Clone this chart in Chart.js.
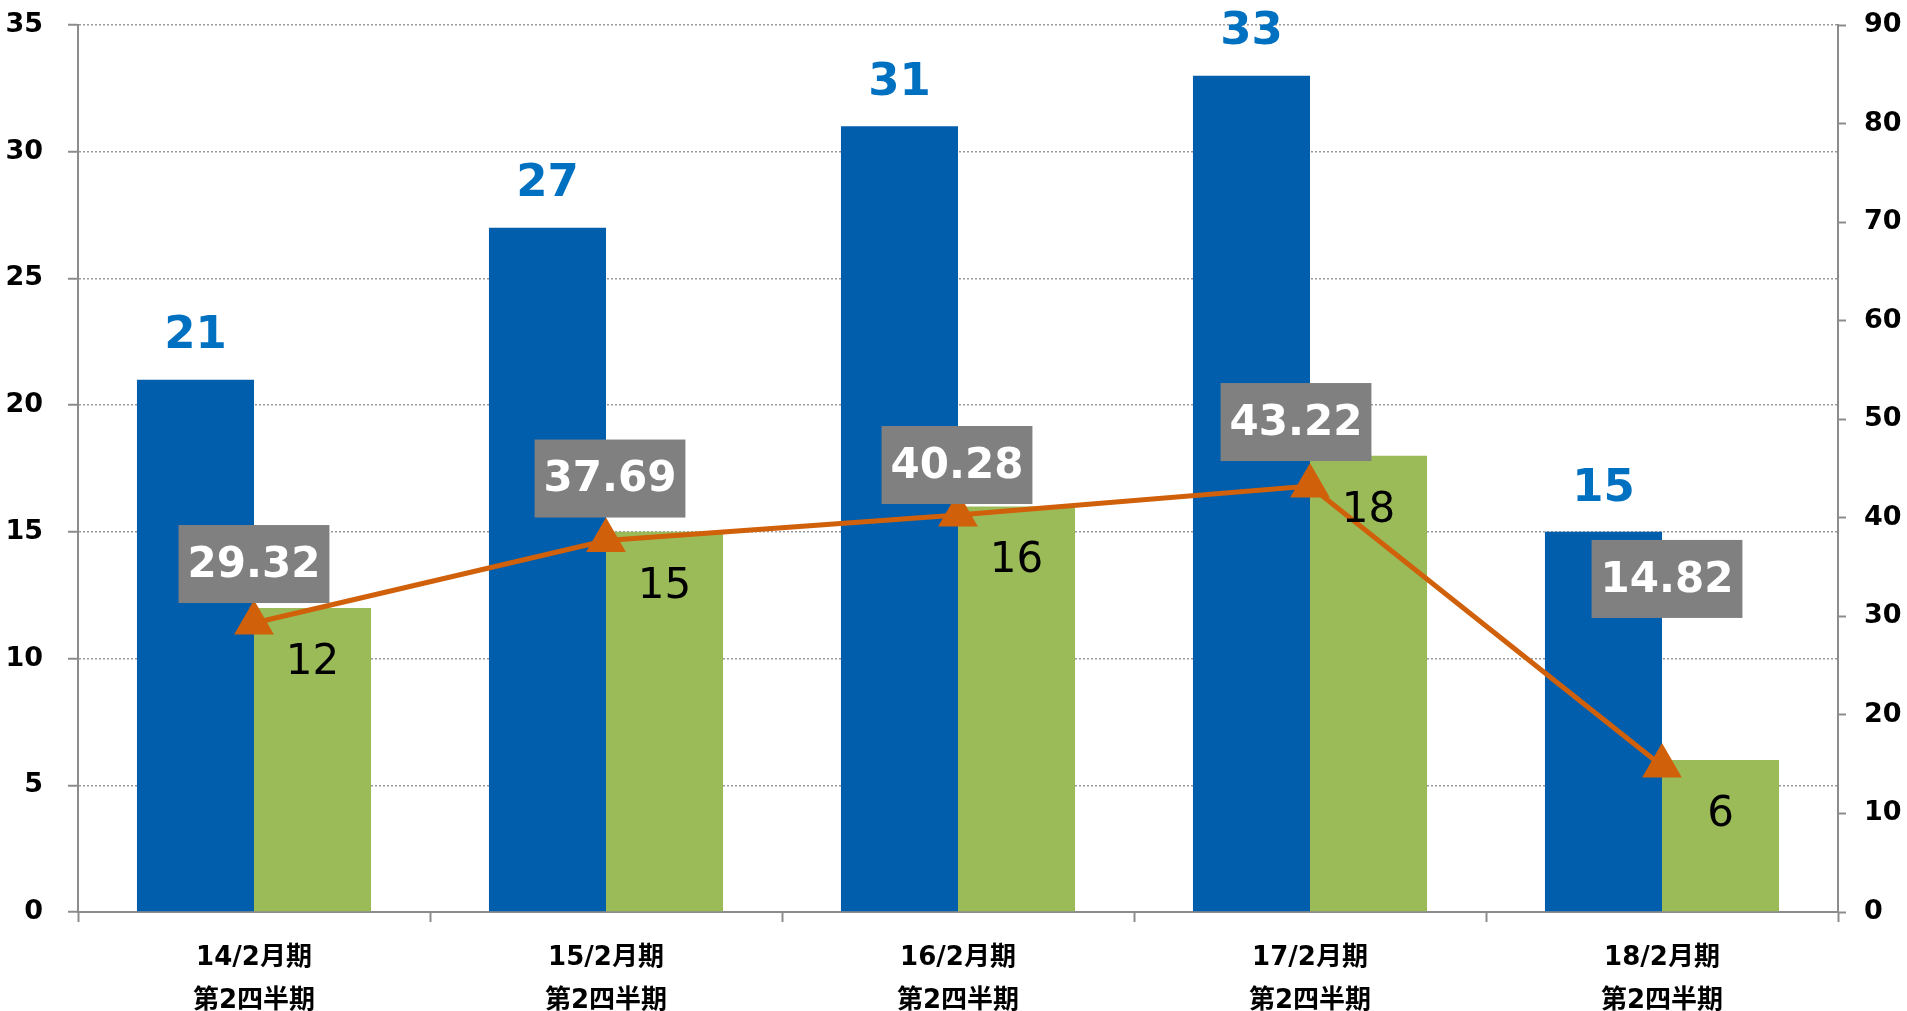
<!DOCTYPE html>
<html>
<head>
<meta charset="utf-8">
<script src="https://cdn.jsdelivr.net/npm/chart.js@4.4.1/dist/chart.umd.min.js"></script>
<style>
html, body { margin: 0; padding: 0; background: #fff; }
#wrap { width: 1907px; height: 1011px; position: relative; }
</style>
</head>
<body>
<div id="wrap"><canvas id="chart"></canvas></div>
<script>
// chart data
const periods = [
    ['14/2月期', '第2四半期'],
    ['15/2月期', '第2四半期'],
    ['16/2月期', '第2四半期'],
    ['17/2月期', '第2四半期'],
    ['18/2月期', '第2四半期']
];
const blueValues = [21, 27, 31, 33, 15];
const greenValues = [12, 15, 16, 18, 6];
const lineValues = [29.32, 37.69, 40.28, 43.22, 14.82];

const FONT = "'DejaVu Sans', 'Noto Sans CJK JP', sans-serif";

// where the grey boxes sit relative to their points (hand placed in the original)
const boxShiftX = [0, 4, -1, -14, 5];
const boxShiftY = [-59, -62, -50, -64, -187];

const labelPlugin = {
    id: 'valueLabels',
    afterDatasetsDraw(chart) {
        const ctx = chart.ctx;
        ctx.save();
        ctx.textAlign = 'center';
        ctx.textBaseline = 'middle';

        chart.getDatasetMeta(1).data.forEach((bar, i) => {
            ctx.font = 'bold 45px ' + FONT;
            ctx.fillStyle = '#0070C0';
            ctx.fillText(String(blueValues[i]), bar.x, bar.y - 43);
        });

        chart.getDatasetMeta(2).data.forEach((bar, i) => {
            ctx.font = '42px ' + FONT;
            ctx.fillStyle = '#000';
            ctx.fillText(String(greenValues[i]), bar.x, bar.y + 55);
        });

        chart.getDatasetMeta(0).data.forEach((pt, i) => {
            const text = lineValues[i].toFixed(2);
            ctx.font = 'bold 42px ' + FONT;
            const w = ctx.measureText(text).width + 18;
            const h = 78;
            const cx = pt.x + boxShiftX[i];
            const cy = pt.y + boxShiftY[i];
            ctx.fillStyle = '#808080';
            ctx.fillRect(cx - w / 2, cy - h / 2, w, h);
            ctx.fillStyle = '#fff';
            ctx.fillText(text, cx, cy + 2);
        });
        ctx.restore();
    }
};

// fixed axis sizes, and no extra room for the end tick labels
function fixWidth(w) {
    return function (s) {
        s.width = w;
        s.paddingTop = 0;
        s.paddingBottom = 0;
    };
}

const ctx = document.getElementById('chart').getContext('2d');
new Chart(ctx, {
    type: 'bar',
    data: {
        labels: periods,
        datasets: [{
            type: 'line',
            label: 'line',
            data: lineValues,
            yAxisID: 'y1',
            order: 0,
            borderColor: '#D0600A',
            borderWidth: 5,
            pointStyle: 'triangle',
            pointRadius: 23,
            pointBackgroundColor: '#D0600A',
            pointBorderWidth: 0,
            tension: 0
        }, {
            label: 'blue',
            data: blueValues,
            yAxisID: 'y',
            order: 1,
            backgroundColor: '#005EAD'
        }, {
            label: 'green',
            data: greenValues,
            yAxisID: 'y',
            order: 2,
            backgroundColor: '#9BBB59'
        }]
    },
    options: {
        responsive: true,
        maintainAspectRatio: false,
        animation: false,
        layout: { padding: { top: 25, left: 0, right: 0, bottom: 0 } },
        datasets: {
            bar: { categoryPercentage: 0.665, barPercentage: 1.0 }
        },
        plugins: {
            legend: { display: false },
            tooltip: { enabled: false }
        },
        scales: {
            x: {
                afterFit(s) { s.height = 99; s.paddingLeft = 0; s.paddingRight = 0; },
                grid: {
                    drawOnChartArea: false,
                    tickLength: 10,
                    tickColor: '#8c8c8c',
                    tickWidth: 2
                },
                border: { color: '#8c8c8c', width: 2 },
                ticks: {
                    color: '#000',
                    padding: 15,
                    maxRotation: 0,
                    font: { family: FONT, size: 26, weight: 'bold', lineHeight: 1.65 }
                }
            },
            y: {
                position: 'left',
                min: 0,
                max: 35,
                afterFit: fixWidth(78),
                grid: {
                    color: '#999',
                    lineWidth: 1.5,
                    tickLength: 10,
                    tickColor: '#8c8c8c',
                    tickWidth: 2
                },
                border: { color: '#8c8c8c', width: 2, dash: [2, 2] },
                ticks: {
                    stepSize: 5,
                    color: '#000',
                    padding: 25,
                    font: { family: FONT, size: 27, weight: 'bold' }
                }
            },
            y1: {
                position: 'right',
                min: 0,
                max: 90,
                afterFit: fixWidth(69),
                grid: {
                    drawOnChartArea: false,
                    tickLength: 8,
                    tickColor: '#8c8c8c',
                    tickWidth: 2
                },
                border: { color: '#8c8c8c', width: 2 },
                ticks: {
                    stepSize: 10,
                    color: '#000',
                    padding: 18,
                    font: { family: FONT, size: 27, weight: 'bold' }
                }
            }
        }
    },
    plugins: [labelPlugin]
});
</script>
</body>
</html>
